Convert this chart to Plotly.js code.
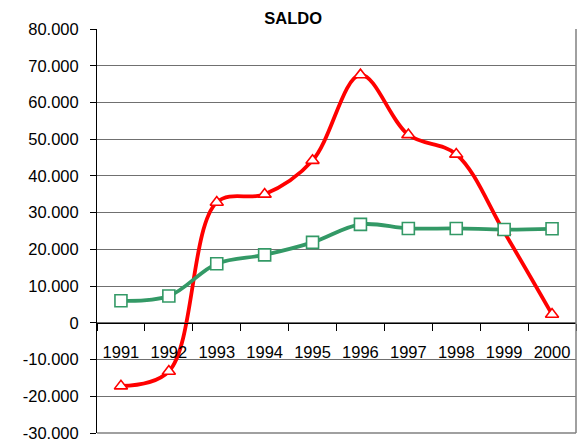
<!DOCTYPE html>
<html>
<head>
<meta charset="utf-8">
<script src="https://cdn.plot.ly/plotly-3.0.1.min.js"></script>
<style>html,body{margin:0;padding:0;background:#fff}#chart{width:577px;height:445px}</style>
</head>
<body>
<div id="chart"></div>
<script>
const years = ['1991','1992','1993','1994','1995','1996','1997','1998','1999','2000'];
const redSeries = [-17200, -13200, 32800, 35000, 44200, 67500, 51200, 45900, 24700, 2300];
const greenSeries = [6000, 7300, 16100, 18500, 21900, 26800, 25700, 25700, 25400, 25600];
const yTickVals = [-30000,-20000,-10000,0,10000,20000,30000,40000,50000,60000,70000,80000];
const yTickText = ['-30.000','-20.000','-10.000','0','10.000','20.000','30.000','40.000','50.000','60.000','70.000','80.000'];
const titleText = 'SALDO';

const font = 'Liberation Sans, Arial, sans-serif';
const traces = [
  {x: years, y: redSeries, type: 'scatter', mode: 'lines+markers',
   line: {color: '#FF0000', width: 3.8, shape: 'spline', smoothing: 1},
   marker: {symbol: 'triangle-up', size: 11.5, color: 'rgba(255,255,255,1)', line: {color: '#FF0000', width: 1.6}},
   cliponaxis: false},
  {x: years, y: greenSeries, type: 'scatter', mode: 'lines+markers',
   line: {color: '#339966', width: 3.8, shape: 'spline', smoothing: 1},
   marker: {symbol: 'square', size: 12, color: 'rgba(255,255,255,1)', line: {color: '#339966', width: 1.6}},
   cliponaxis: false}
];
const layout = {
  width: 577, height: 445,
  margin: {l: 97, r: 1, t: 29, b: 12, pad: 0},
  paper_bgcolor: '#fff', plot_bgcolor: '#fff',
  showlegend: false,
  font: {family: font, size: 16.5, color: '#000'},
  title: {text: '<b>' + titleText + '</b>', font: {family: font, size: 16.5, color: '#000'},
          x: 0.508, xref: 'container', xanchor: 'center', y: 1 - 18/445, yref: 'container', yanchor: 'middle'},
  xaxis: {type: 'category', anchor: 'free', position: 30000/110000,
          showline: true, linecolor: '#000', linewidth: 1,
          ticks: 'outside', tickson: 'boundaries', ticklen: 7, tickcolor: '#000', tickwidth: 1,
          showgrid: false, zeroline: false, ticklabelstandoff: 14,
          tickfont: {family: font, size: 16.5, color: '#000'}, range: [-0.5, 9.5]},
  yaxis: {range: [-30000, 80000], tickvals: yTickVals, ticktext: yTickText,
          showline: true, linecolor: '#000', linewidth: 1,
          ticks: 'outside', ticklen: 6, tickcolor: '#000',
          showgrid: true, gridcolor: '#707070', gridwidth: 1, zeroline: false,
          ticklabelstandoff: 8,
          tickfont: {family: font, size: 16.5, color: '#000'}},
  shapes: [
    {type: 'line', xref: 'paper', yref: 'paper', x0: 1, x1: 1, y0: 0, y1: 1, line: {color: '#808080', width: 1.5}},
    {type: 'line', xref: 'paper', yref: 'paper', x0: 0, x1: 1, y0: 0, y1: 0, line: {color: '#808080', width: 1.5}}
  ]
};
Plotly.newPlot('chart', traces, layout, {displayModeBar: false, staticPlot: true});
</script>
</body>
</html>
